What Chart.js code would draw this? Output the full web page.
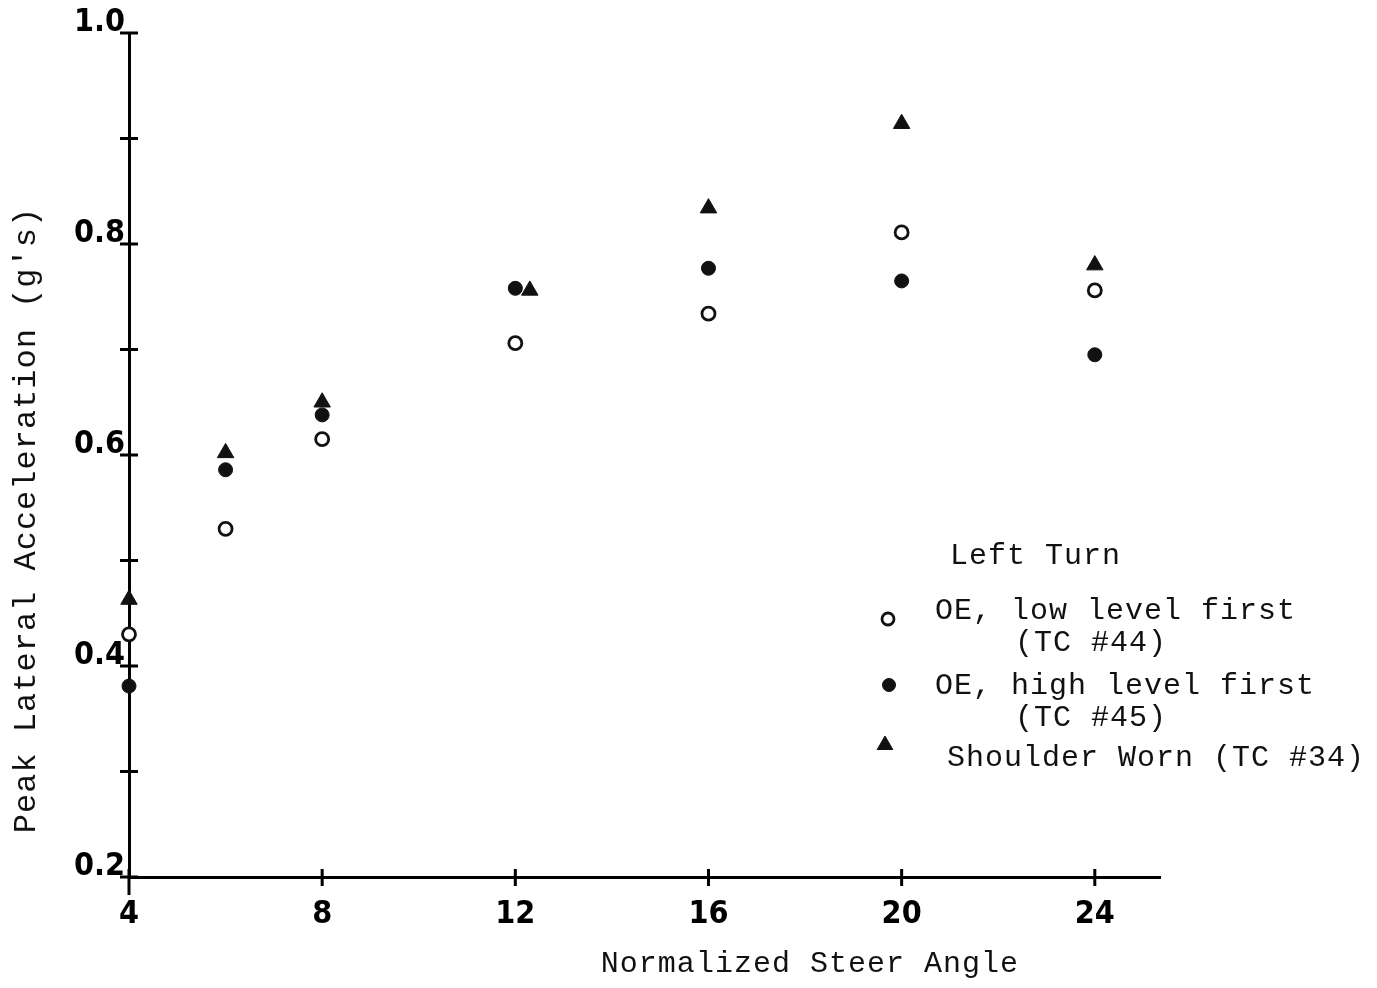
<!DOCTYPE html>
<html>
<head>
<meta charset="utf-8">
<title>Peak Lateral Acceleration - Left Turn</title>
<script src="https://cdn.jsdelivr.net/npm/chart.js@4/dist/chart.umd.min.js"></script>
<style>
    html, body { margin: 0; padding: 0; background: #fff; }
    #wrap { width: 1377px; height: 988px; }
</style>
</head>
<body>
<div id="wrap"><canvas id="accelChart" width="1377" height="988"></canvas></div>
<script>
// values
const steerLow = [4, 6, 8, 12, 16, 20, 24];
const accelLow = [0.43, 0.53, 0.615, 0.706, 0.734, 0.811, 0.756];

const steerHigh = [4, 6, 8, 12, 16, 20, 24];
const accelHigh = [0.381, 0.586, 0.638, 0.758, 0.777, 0.765, 0.695];

const steerWorn = [4, 6, 8, 12.3, 16, 20, 24];
const accelWorn = [0.463, 0.602, 0.65, 0.756, 0.834, 0.914, 0.78];

const xTicks = [4, 8, 12, 16, 20, 24];
const yTicks = [0.2, 0.3, 0.4, 0.5, 0.6, 0.7, 0.8, 0.9, 1.0];

const legendTitle = 'Left Turn';
const legendLines = [
    ['OE, low level first', '(TC #44)'],
    ['OE, high level first', '(TC #45)'],
    ['Shoulder Worn (TC #34)']
];
const xTitle = 'Normalized Steer Angle';
const yTitle = "Peak Lateral Acceleration (g's)";

const INK = '#111';
const TYPE = '"Liberation Mono", "DejaVu Sans Mono", monospace';

function toPoints(xs, ys) {
    return xs.map((x, i) => ({ x: x, y: ys[i] }));
}

const datasets = [
    { label: legendLines[0].join(' '), data: toPoints(steerLow, accelLow), pointStyle: 'circle', pointRadius: 6.5, backgroundColor: '#fff', borderColor: INK, borderWidth: 2.8, clip: false },
    { label: legendLines[1].join(' '), data: toPoints(steerHigh, accelHigh), pointStyle: 'circle', pointRadius: 7, backgroundColor: INK, borderColor: INK, borderWidth: 1, clip: false },
    { label: legendLines[2].join(' '), data: toPoints(steerWorn, accelWorn), pointStyle: 'triangle', pointRadius: 9.5, backgroundColor: INK, borderColor: INK, borderWidth: 1, clip: false }
];

// tick marks crossing the axis lines, like the hand-drawn original
const crossTicks = {
    id: 'crossTicks',
    afterDatasetsDraw(chart) {
        const { ctx, chartArea, scales } = chart;
        ctx.save();
        ctx.strokeStyle = '#000';
        ctx.lineWidth = 3;
        ctx.beginPath();
        scales.y.ticks.forEach((t) => {
            const py = scales.y.getPixelForValue(t.value);
            ctx.moveTo(chartArea.left - 9, py);
            ctx.lineTo(chartArea.left + 9, py);
        });
        scales.x.ticks.forEach((t) => {
            const px = scales.x.getPixelForValue(t.value);
            ctx.moveTo(px, chartArea.bottom - 8);
            ctx.lineTo(px, chartArea.bottom + (t.value === 4 ? 18 : 9));
        });
        ctx.stroke();
        ctx.restore();
    }
};

// axis titles and the typed legend block
const typedText = {
    id: 'typedText',
    afterDraw(chart) {
        const { ctx, scales } = chart;
        ctx.save();
        ctx.fillStyle = INK;
        ctx.textBaseline = 'middle';

        ctx.font = '30px ' + TYPE;
        ctx.letterSpacing = '1px';
        ctx.textAlign = 'center';
        ctx.fillText(xTitle, scales.x.getPixelForValue(18.1), 964);

        ctx.save();
        ctx.translate(27, 520);
        ctx.rotate(-Math.PI / 2);
        ctx.font = '32px ' + TYPE;
        ctx.fillText(yTitle, 0, 0);
        ctx.restore();

        ctx.textAlign = 'left';
        ctx.fillText(legendTitle, 950, 556);

        const rows = [
            { marker: [888, 619], lines: [[935, 611], [1015, 643]] },
            { marker: [889, 685], lines: [[935, 686], [1015, 718]] },
            { marker: [885, 745], lines: [[947, 758]] }
        ];
        rows.forEach((row, i) => {
            const ds = chart.data.datasets[i];
            ctx.fillStyle = ds.backgroundColor;
            ctx.strokeStyle = ds.borderColor;
            ctx.lineWidth = ds.borderWidth;
            Chart.helpers.drawPoint(ctx, {
                pointStyle: ds.pointStyle,
                radius: ds.pointRadius - 0.5,
                rotation: 0,
                borderWidth: ds.borderWidth
            }, row.marker[0], row.marker[1]);
            ctx.fillStyle = INK;
            row.lines.forEach((pos, j) => ctx.fillText(legendLines[i][j], pos[0], pos[1]));
        });
        ctx.restore();
    }
};

document.addEventListener('DOMContentLoaded', function () {
    const tickFont = { family: '"DejaVu Sans Condensed", "DejaVu Sans", sans-serif', size: 32, weight: 'bold' };

    new Chart(document.getElementById('accelChart'), {
        type: 'scatter',
        data: { datasets: datasets },
        options: {
            responsive: false,
            animation: false,
            events: [],
            layout: { padding: { top: 33, right: 217, bottom: 48, left: 0 } },
            plugins: { legend: { display: false }, tooltip: { enabled: false } },
            scales: {
                x: {
                    type: 'linear',
                    min: 4,
                    max: 25.35,
                    afterBuildTicks: (scale) => { scale.ticks = xTicks.map((v) => ({ value: v })); },
                    afterFit: (scale) => { scale.height = 63; },
                    grid: { display: true, drawOnChartArea: false, drawTicks: false },
                    border: { color: '#000', width: 3 },
                    ticks: { color: '#000', font: tickFont, padding: 18, autoSkip: false, maxRotation: 0 }
                },
                y: {
                    type: 'linear',
                    min: 0.2,
                    max: 1.0,
                    afterBuildTicks: (scale) => { scale.ticks = yTicks.map((v) => ({ value: v })); },
                    afterFit: (scale) => { scale.width = 129; },
                    grid: { display: true, drawOnChartArea: false, drawTicks: false },
                    border: { color: '#000', width: 3 },
                    ticks: {
                        color: '#000',
                        font: tickFont,
                        padding: 4,
                        labelOffset: -10,
                        autoSkip: false,
                        callback: (value) => (Math.round(value * 10) % 2 === 0 ? value.toFixed(1) : '')
                    }
                }
            }
        },
        plugins: [crossTicks, typedText]
    });
});
</script>
</body>
</html>
